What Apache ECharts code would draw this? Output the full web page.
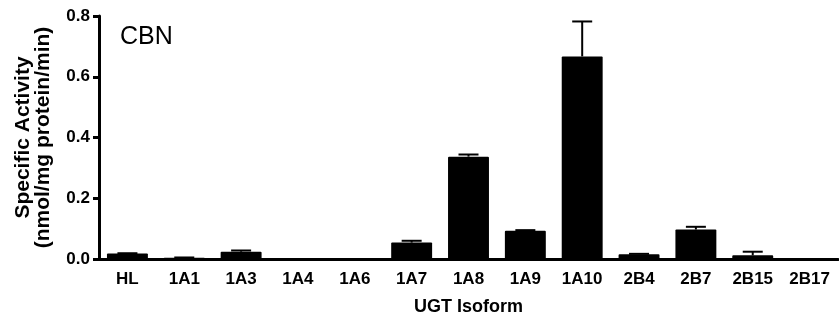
<!DOCTYPE html>
<html>
<head>
<meta charset="utf-8">
<script src="https://cdn.jsdelivr.net/npm/echarts@6/dist/echarts.min.js"></script>
<style>html,body{margin:0;padding:0;background:#fff;}#c{width:839px;height:321px;}</style>
</head>
<body>
<div id="c"></div>
<script>
const categories = ['HL','1A1','1A3','1A4','1A6','1A7','1A8','1A9','1A10','2B4','2B7','2B15','2B17'];
const activity = [0.018, 0.004, 0.024, 0, 0, 0.054, 0.337, 0.093, 0.667, 0.016, 0.097, 0.012, 0];
const errors = [0.001, 0.001, 0.004, 0, 0, 0.006, 0.007, 0.002, 0.115, 0.001, 0.009, 0.012, 0];
const yTicks = [0, 0.2, 0.4, 0.6, 0.8];

const font = 'Liberation Sans, Arial, sans-serif';
const chart = echarts.init(document.getElementById('c'), null, {renderer: 'canvas'});
chart.setOption({
  animation: false,
  backgroundColor: '#fff',
  grid: {left: 99, right: 1, top: 16, bottom: 54},
  title: {
    text: 'CBN', left: 115, top: 20,
    textStyle: {fontFamily: font, fontSize: 25, fontWeight: 'normal', color: '#000'}
  },
  xAxis: {
    type: 'category',
    data: categories,
    name: 'UGT Isoform',
    nameLocation: 'middle',
    nameGap: 39,
    nameTextStyle: {fontFamily: font, fontSize: 18, fontWeight: 'bold', color: '#000'},
    axisLine: {lineStyle: {color: '#000', width: 3}},
    axisTick: {show: false},
    axisLabel: {fontFamily: font, fontSize: 17, fontWeight: 'bold', color: '#000', margin: 12, interval: 0}
  },
  yAxis: {
    type: 'value',
    min: yTicks[0], max: yTicks[yTicks.length - 1], interval: 0.2,
    name: 'Specific Activity\n(nmol/mg protein/min)',
    nameLocation: 'middle',
    nameGap: 46,
    nameRotate: 90,
    nameTextStyle: {fontFamily: font, fontSize: 21, fontWeight: 'bold', color: '#000', lineHeight: 20},
    splitLine: {show: false},
    axisLine: {show: true, lineStyle: {color: '#000', width: 3}},
    axisTick: {show: true, length: 6, lineStyle: {color: '#000', width: 3}},
    axisLabel: {fontFamily: font, fontSize: 17, fontWeight: 'bold', color: '#000', margin: 9,
      formatter: v => v.toFixed(1)}
  },
  series: [
    {
      type: 'bar',
      data: activity,
      barCategoryGap: '28%',
      itemStyle: {color: '#000', borderRadius: 1}
    },
    {
      type: 'custom',
      data: activity.map((v, i) => [i, v, v + errors[i]]),
      z: 3,
      renderItem: function (params, api) {
        const i = api.value(0);
        const lo = api.coord([i, api.value(1)]);
        const hi = api.coord([i, api.value(2)]);
        if (api.value(2) - api.value(1) < 0.0005) return;
        const half = 10;
        return {
          type: 'group',
          children: [
            {type: 'line', shape: {x1: lo[0], y1: lo[1], x2: hi[0], y2: hi[1]}, style: {stroke: '#000', lineWidth: 2}},
            {type: 'line', shape: {x1: hi[0] - half, y1: hi[1], x2: hi[0] + half, y2: hi[1]}, style: {stroke: '#000', lineWidth: 2}}
          ]
        };
      }
    }
  ]
});
</script>
</body>
</html>
